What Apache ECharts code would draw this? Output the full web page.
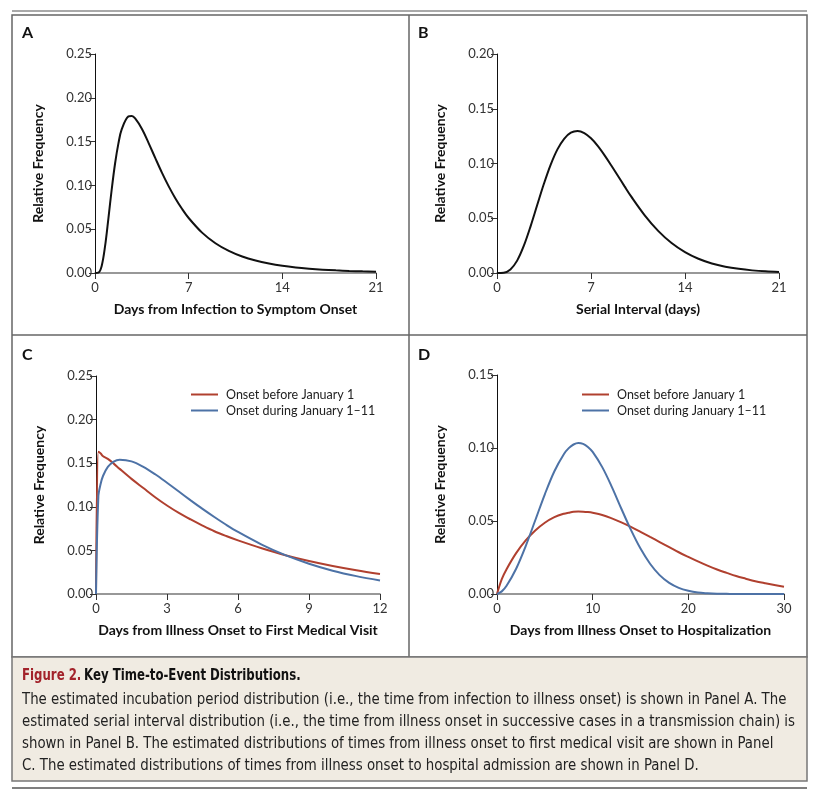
<!DOCTYPE html>
<html><head><meta charset="utf-8">
<script src="https://cdn.jsdelivr.net/npm/echarts@6/dist/echarts.min.js"></script>
<style>html,body{margin:0;padding:0;background:#fff}#c{width:824px;height:793px}</style>
</head><body><div id="c"></div>
<script>
// Panel A: incubation period
const incubDays = [0,0.25,0.5,0.75,1,1.25,1.5,1.75,2,2.5,2.75,3,3.5,4,4.5,5,5.5,6,6.5,7,8,9,10,11,12,13,14,15,16,17,18,19,20,21];
const incubFreq = [0,0.0004,0.0081,0.0303,0.0622,0.0956,0.1250,0.1480,0.1642,0.1787,0.1792,0.1764,0.1647,0.1486,0.1314,0.1146,0.0992,0.0854,0.0733,0.0628,0.0461,0.0340,0.0252,0.0188,0.0142,0.0108,0.0082,0.0063,0.0049,0.0038,0.0030,0.0024,0.0019,0.0015];
// Panel B: serial interval
const serialDays = [0,0.5,1,1.5,2,2.5,3,3.5,4,4.5,5,5.5,6,6.5,7,7.5,8,8.5,9,9.5,10,11,12,13,14,15,16,17,18,19,20,21];
const serialFreq = [0,0.0003,0.0033,0.0113,0.0249,0.0426,0.0623,0.0817,0.0990,0.1129,0.1226,0.1281,0.1297,0.1278,0.1230,0.1161,0.1077,0.0984,0.0888,0.0791,0.0697,0.0527,0.0385,0.0274,0.0191,0.0130,0.0087,0.0058,0.0038,0.0024,0.0015,0.0010];
// Panel C: onset to first medical visit
const visitDays = [0,0.1,0.2,0.3,0.5,0.75,1,1.5,2,2.5,3,3.5,4,4.5,5,5.5,6,7,8,9,10,11,12];
const visitBefore = [0,0.163,0.161,0.158,0.155,0.1495,0.1435,0.132,0.1215,0.111,0.1015,0.093,0.0855,0.0785,0.072,0.0665,0.0615,0.0525,0.0445,0.0378,0.0321,0.0272,0.0229];
const visitDuring = [0,0.1117,0.1267,0.1356,0.1458,0.1519,0.1539,0.1521,0.1458,0.1373,0.1276,0.1175,0.1074,0.0976,0.0883,0.0794,0.0712,0.0567,0.0445,0.0347,0.0267,0.0205,0.0156];
// Panel D: onset to hospitalization
const hospDays = [0,0.5,1,2,3,4,5,6,7,7.5,8,8.5,9,9.5,10,11,12,13,14,15,16,17,18,19,20,21,22,23,24,25,26,27,28,29,30];
const hospBefore = [0,0.0102,0.0170,0.0280,0.0367,0.0435,0.0488,0.0526,0.0550,0.0557,0.0563,0.0565,0.0564,0.0561,0.0556,0.0541,0.0518,0.0491,0.0460,0.0426,0.0391,0.0356,0.0321,0.0286,0.0254,0.0223,0.0194,0.0168,0.0145,0.0123,0.0105,0.0088,0.0074,0.0061,0.0050];
const hospDuring = [0,0.0018,0.0056,0.0173,0.0328,0.0505,0.0683,0.0841,0.0959,0.0999,0.1024,0.1034,0.1028,0.1007,0.0973,0.0869,0.0734,0.0584,0.0439,0.0311,0.0207,0.0129,0.0076,0.0042,0.0022,0.0010,0.0005,0.0002,0.0001,0,0,0,0,0,0];

const seriesNames = ['Onset before January 1', 'Onset during January 1\u201311'];
const panelLetters = ['A','B','C','D'];
const xTitles = ['Days from Infection to Symptom Onset','Serial Interval (days)','Days from Illness Onset to First Medical Visit','Days from Illness Onset to Hospitalization'];
const yTitle = 'Relative Frequency';
const xMax = [21,21,12,30], xStep = [7,7,3,10];
const yMax = [0.25,0.20,0.25,0.15], yStep = [0.05,0.05,0.05,0.05];
const captionLabel = 'Figure 2.';
const captionTitle = 'Key Time-to-Event Distributions.';
const captionLines = [
 'The estimated incubation period distribution (i.e., the time from infection to illness onset) is shown in Panel A. The',
 'estimated serial interval distribution (i.e., the time from illness onset in successive cases in a transmission chain) is',
 'shown in Panel B. The estimated distributions of times from illness onset to first medical visit are shown in Panel',
 'C. The estimated distributions of times from illness onset to hospital admission are shown in Panel D.'
];

const FONT = 'Lato, "Open Sans", sans-serif';
const CAPFONT = '"Liberation Sans Narrow", "DejaVu Sans Condensed", "Noto Sans", sans-serif';
const RED = '#b0402f', BLUE = '#4d72a6', BLACK = '#111';
const zip = (xs, ys) => xs.map((x, i) => [x, ys[i]]);

// measure caption text to condense it to the reference width
const mctx = document.createElement('canvas').getContext('2d');
const measure = (font, t) => { mctx.font = font; return mctx.measureText(t).width; };
const bodyFont = '16px ' + CAPFONT;
const titleFont = 'bold 16px ' + CAPFONT;
const bodyScale = Math.min(775 / measure(bodyFont, captionLines[0]), 773 / measure(bodyFont, captionLines[1]));
const titleScale = 280 / measure(titleFont, captionLabel + ' ' + captionTitle);

const grids = [
  {left:95, top:54, width:281, height:219},
  {left:497, top:54, width:282, height:219},
  {left:96, top:376, width:284, height:218},
  {left:497, top:375, width:287, height:219}
];

const xAxes = grids.map((g, i) => ({
  type:'value', gridIndex:i, min:0, max:xMax[i], interval:xStep[i],
  name:xTitles[i], nameLocation:'middle', nameGap:29,
  nameTextStyle:{fontFamily:FONT, fontWeight:'bold', fontSize:14, color:'#111'},
  axisLine:{show:true, onZero:false, lineStyle:{color:'#777', width:1.5}},
  axisTick:{show:true, length:6, lineStyle:{color:'#333'}},
  axisLabel:{fontFamily:FONT, fontSize:13, color:'#333', margin:8},
  splitLine:{show:false}
}));
const yAxes = grids.map((g, i) => ({
  type:'value', gridIndex:i, min:0, max:yMax[i], interval:yStep[i],
  name:yTitle, nameLocation:'middle', nameGap:50,
  nameTextStyle:{fontFamily:FONT, fontWeight:'bold', fontSize:14, color:'#111'},
  axisLine:{show:true, lineStyle:{color:BLACK, width:1}},
  axisTick:{show:true, length:6, lineStyle:{color:'#333'}},
  axisLabel:{fontFamily:FONT, fontSize:13, color:'#333', margin:3, formatter:v => v.toFixed(2)},
  splitLine:{show:false}
}));

const lineS = (name, data, idx, color) => ({
  type:'line', name, data, xAxisIndex:idx, yAxisIndex:idx,
  showSymbol:false, symbol:'none', smooth:0.35,
  lineStyle:{color, width:2}, itemStyle:{color}, z:3
});

const series = [
  lineS('Incubation', zip(incubDays, incubFreq), 0, BLACK),
  lineS('Serial', zip(serialDays, serialFreq), 1, BLACK),
  lineS(seriesNames[0], zip(visitDays, visitBefore), 2, RED),
  lineS(seriesNames[1], zip(visitDays, visitDuring), 2, BLUE),
  lineS(seriesNames[0], zip(hospDays, hospBefore), 3, RED),
  lineS(seriesNames[1], zip(hospDays, hospDuring), 3, BLUE)
];

const legendBase = (left) => ({
  data: seriesNames, orient:'vertical', left, top:383, icon:'rect',
  itemWidth:27, itemHeight:2, itemGap:3, selectedMode:false,
  textStyle:{fontFamily:FONT, fontSize:12.5, color:'#222', padding:[0,0,0,3]}
});

const letterPos = [[22,25],[418,25],[22,347],[418,347]];
const graphic = [
  {type:'line', shape:{x1:12,y1:11,x2:807,y2:11}, style:{stroke:'#555', lineWidth:1.2}},
  {type:'rect', shape:{x:12,y:15,width:795,height:642}, style:{fill:'none', stroke:'#666', lineWidth:1.5}},
  {type:'line', shape:{x1:409,y1:15,x2:409,y2:657}, style:{stroke:'#666', lineWidth:1.5}},
  {type:'line', shape:{x1:12,y1:335,x2:807,y2:335}, style:{stroke:'#666', lineWidth:1.5}},
  {type:'rect', shape:{x:12,y:657,width:795,height:124}, style:{fill:'#f0ebe2', stroke:'#777', lineWidth:1.5}},
  {type:'line', shape:{x1:12,y1:788,x2:807,y2:788}, style:{stroke:'#555', lineWidth:1.5}},
  ...panelLetters.map((t, i) => ({type:'text', left:letterPos[i][0], top:letterPos[i][1],
     style:{text:t, font:'bold 16px ' + FONT, fill:'#111'}})),
  {type:'text', x:22, y:668, scaleX:titleScale, style:{
     text:'{a|' + captionLabel + '} {b|' + captionTitle + '}',
     rich:{a:{fill:'#a3232b', fontFamily:CAPFONT, fontSize:16, fontWeight:'bold'},
           b:{fill:'#111', fontFamily:CAPFONT, fontSize:16, fontWeight:'bold'}}}},
  ...captionLines.map((t, i) => ({type:'text', x:22, y:692 + i*22, scaleX:bodyScale,
     style:{text:t, fontFamily:CAPFONT, fontSize:16, fill:'#222'}}))
];

const chart = echarts.init(document.getElementById('c'), null, {renderer:'canvas'});
chart.setOption({
  animation:false, backgroundColor:'#fff',
  grid:grids, xAxis:xAxes, yAxis:yAxes, series,
  legend:[legendBase(186), legendBase(577)],
  graphic
});
</script></body></html>
